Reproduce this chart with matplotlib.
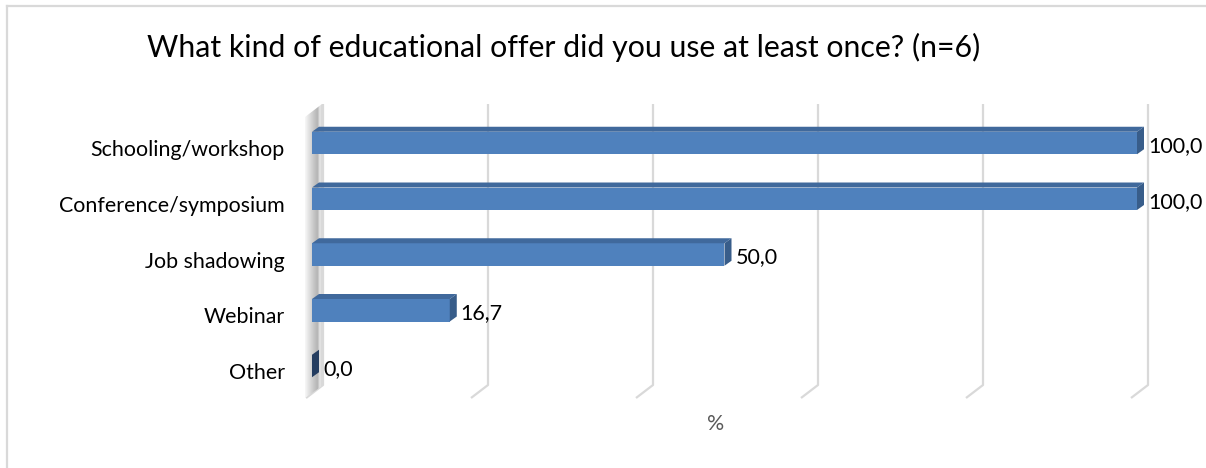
import numpy as np
import matplotlib
matplotlib.use("Agg")
import matplotlib.pyplot as plt
from matplotlib.patches import Polygon
from matplotlib.lines import Line2D
from matplotlib.colors import LinearSegmentedColormap

plt.rcParams['font.family'] = ['Lato', 'DejaVu Sans']

# ---- data ----
title = "What kind of educational offer did you use at least once? (n=6)"
categories = ["Schooling/workshop", "Conference/symposium", "Job shadowing", "Webinar", "Other"]
values = [100.0, 100.0, 50.0, 16.7, 0.0]
x_ticks = [0, 20, 40, 60, 80, 100]
x_label = "%"

# ---- layout (pixels of the 1206x468 canvas) ----
W, H = 1206, 468
X0, PX_PCT = 312, 8.25        # front plane: 0 % at x=312, 8.25 px per %
Y0, PX_CAT = 143, 55.75       # first bar centre, spacing between bars


def px2x(px):
    return (px - X0) / PX_PCT


def px2y(py):
    return (py - Y0) / PX_CAT


FRONT = "#4f81bd"
TOP = "#40699c"
SIDE = "#385d8a"
GRID = "#d9d9d9"

fig = plt.figure(figsize=(W / 100, H / 100), dpi=100)
ax_l, ax_r, ax_t, ax_b = 290, 1175, 95, 405
ax = fig.add_axes([ax_l / W, 1 - ax_b / H, (ax_r - ax_l) / W, (ax_b - ax_t) / H])
ax.set_xlim(px2x(ax_l), px2x(ax_r))
ax.set_ylim(px2y(ax_b), px2y(ax_t))
ax.axis("off")

# back wall gridlines + floor diagonals
back_dx = 11 / PX_PCT
for t in x_ticks:
    ax.plot([t + back_dx, t + back_dx, t - 6 / PX_PCT],
            [px2y(104), px2y(385), px2y(398)],
            color=GRID, lw=1.6, zorder=1, solid_capstyle="butt")

# left side wall with a soft gradient
wall = Polygon([(px2x(305), px2y(117)), (px2x(322), px2y(104)),
                (px2x(322), px2y(386)), (px2x(305), px2y(398))],
               closed=True, facecolor="none", edgecolor="none")
ax.add_patch(wall)
cmap = LinearSegmentedColormap.from_list(
    "wall", [(0, "#f8f8f8"), (0.45, "#cdcdcd"), (0.75, "#b4b4b4"),
             (0.88, "#e8e8e8"), (1.0, "#d6d6d6")])
grad = np.linspace(0, 1, 64).reshape(1, -1)
im = ax.imshow(grad, cmap=cmap, aspect="auto", zorder=1.5,
               extent=(px2x(305), px2x(322), px2y(398), px2y(104)))
im.set_clip_path(wall)

# 3D bars: front face + top face + end face
y = np.arange(len(categories))
bh = 22.5 / PX_CAT
ddx, ddy = 7 / PX_PCT, -5 / PX_CAT
ax.barh(y, values, height=bh, color=FRONT, zorder=3)
for yi, v in zip(y, values):
    top = yi - bh / 2
    bot = yi + bh / 2
    ax.add_patch(Polygon([(0, top), (v, top), (v + ddx, top + ddy), (ddx, top + ddy)],
                         closed=True, facecolor=TOP, edgecolor="none", zorder=3))
    side = SIDE if v > 0 else "#243d60"
    ax.add_patch(Polygon([(v, top), (v + ddx, top + ddy), (v + ddx, bot + ddy), (v, bot)],
                         closed=True, facecolor=side, edgecolor="none", zorder=3))
    ax.text(v + 11 / PX_PCT, yi + 9 / PX_CAT, f"{v:.1f}".replace(".", ","),
            ha="left", va="baseline", fontsize=15.5, color="#000000")

# category labels
for yi, c in zip(y, categories):
    ax.text(px2x(285), yi + 13 / PX_CAT, c, ha="right", va="baseline",
            fontsize=15.4, color="#000000")

fig.text(716 / W, 1 - 430 / H, x_label, ha="center", va="baseline",
         fontsize=15.4, color="#595959")
fig.text(564 / W, 1 - 57 / H, title, ha="center", va="baseline",
         fontsize=21.8, color="#000000")

# outer chart border
fig.add_artist(Line2D([7 / W, 7 / W], [0, 1 - 6 / H], color=GRID, lw=1.6,
                      transform=fig.transFigure))
fig.add_artist(Line2D([7 / W, 1], [1 - 6 / H, 1 - 6 / H], color=GRID, lw=1.6,
                      transform=fig.transFigure))

fig.savefig("out.png", dpi=100)
